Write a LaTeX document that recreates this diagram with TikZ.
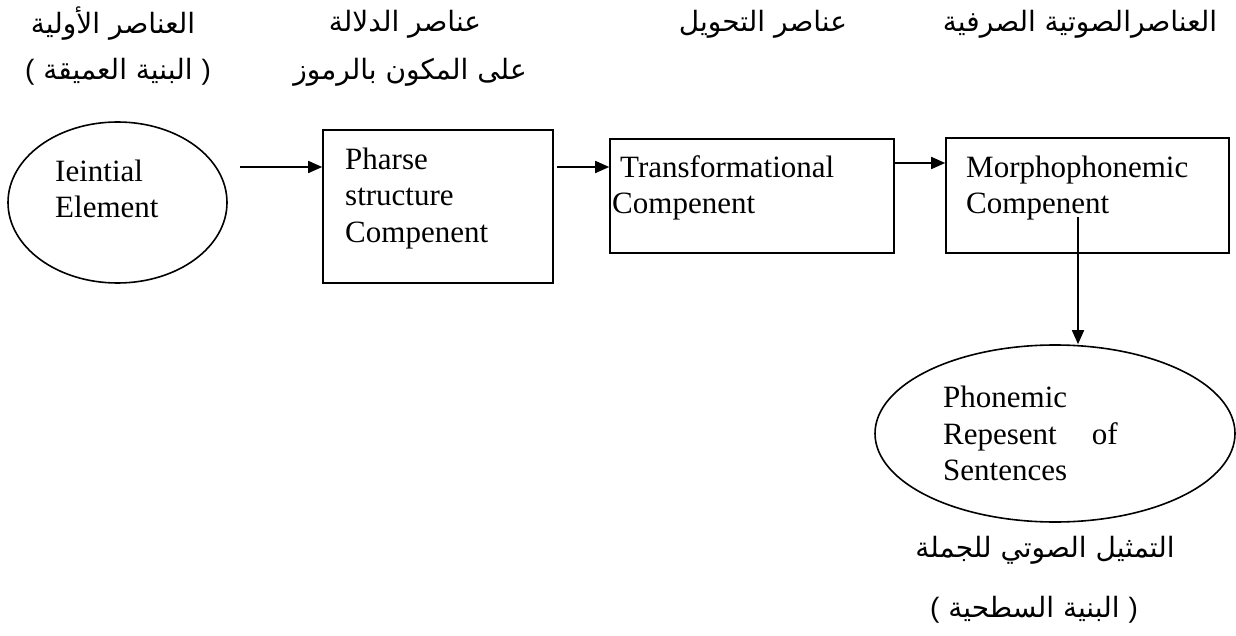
\documentclass[tikz,border=0pt]{standalone}
\usepackage{fontspec}
\setmainfont{Liberation Serif}
\newfontfamily\arabicfont[Script=Arabic]{DejaVu Sans}
\newfontfamily\parenfont{Liberation Sans}
\TeXXeTstate=1
\usetikzlibrary{shapes.geometric,arrows.meta}
\tikzset{
  shape line/.style={draw=black, line width=1.6pt},
  boxnode/.style={shape line, rectangle, inner sep=0pt},
  ovalnode/.style={shape line, ellipse, inner sep=0pt},
  entext/.style={anchor=base west, inner sep=0pt, font=\fontsize{31}{36}\selectfont},
  artext/.style={anchor=center, inner sep=0pt, font=\arabicfont\fontsize{28}{34}\selectfont},
  arr/.style={line width=1.6pt, -{Triangle[length=14pt,width=12pt]}},
  link/.style={line width=1.6pt}
}
\newcommand{\lp}{{\parenfont(}}
\newcommand{\rp}{{\parenfont)}}
\begin{document}
\begin{tikzpicture}[x=1pt,y=-1pt]
\useasboundingbox (0,0) rectangle (1236,636);
\fill[white] (0,0) rectangle (1236,636);

% Arabic headings
\node[artext] (h1) at (113,24) {\beginR العناصر الأولية\endR};
\node[artext] (h1b) at (118,72) {\lp\ \beginR البنية العميقة\endR\ \rp};
\node[artext] (h2) at (405,24) {\beginR عناصر الدلالة\endR};
\node[artext] (h2b) at (410,72) {\beginR على المكون بالرموز\endR};
\node[artext] (h3) at (763,24) {\beginR عناصر التحويل\endR};
\node[artext] (h4) at (1080,24) {\beginR العناصرالصوتية الصرفية\endR};
\node[artext] (h5) at (1045,550) {\beginR التمثيل الصوتي للجملة\endR};
\node[artext] (h5b) at (1034,610) {\lp\ \beginR البنية السطحية\endR\ \rp};

% shapes
\node[ovalnode, minimum width=219pt, minimum height=161pt] (e1) at (117.5,202.5) {};
\node[boxnode, minimum width=230pt, minimum height=153pt] (b2) at (438,206.5) {};
\node[boxnode, minimum width=284pt, minimum height=114pt] (b3) at (752,196) {};
\node[boxnode, minimum width=283pt, minimum height=115pt] (b4) at (1087.5,195.5) {};
\node[ovalnode, minimum width=360pt, minimum height=177pt] (e2) at (1055,433.5) {};

% English texts
\node[entext] (t1a) at (55,182) {Ieintial};
\node[entext] (t1b) at (55,218) {Element};
\node[entext] (t2a) at (345,170) {Pharse};
\node[entext] (t2b) at (345,206) {structure};
\node[entext] (t2c) at (345,243) {Compenent};
\node[entext] (t3a) at (620,178) {Transformational};
\node[entext] (t3b) at (612,214) {Compenent};
\node[entext] (t4a) at (966,178) {Morphophonemic};
\node[entext] (t4b) at (966,214) {Compenent};
\node[entext] (t5a) at (943,407) {Phonemic};
\node[entext] (t5b) at (943,444) {Repesent\hspace{35pt}of};
\node[entext] (t5c) at (943,480) {Sentences};

% connectors
\coordinate (a1s) at (240,167);
\coordinate (a2s) at (557,167);
\coordinate (a3s) at (894,163);
\coordinate (vs) at (1078,217);
\draw[arr] (a1s) -- (a1s -| b2.west);
\draw[arr] (a2s) -- (a2s -| b3.west);
\draw[arr] (a3s) -- (a3s -| b4.west);
\draw[arr] (vs) -- (vs |- e2.north);
\end{tikzpicture}
\end{document}
